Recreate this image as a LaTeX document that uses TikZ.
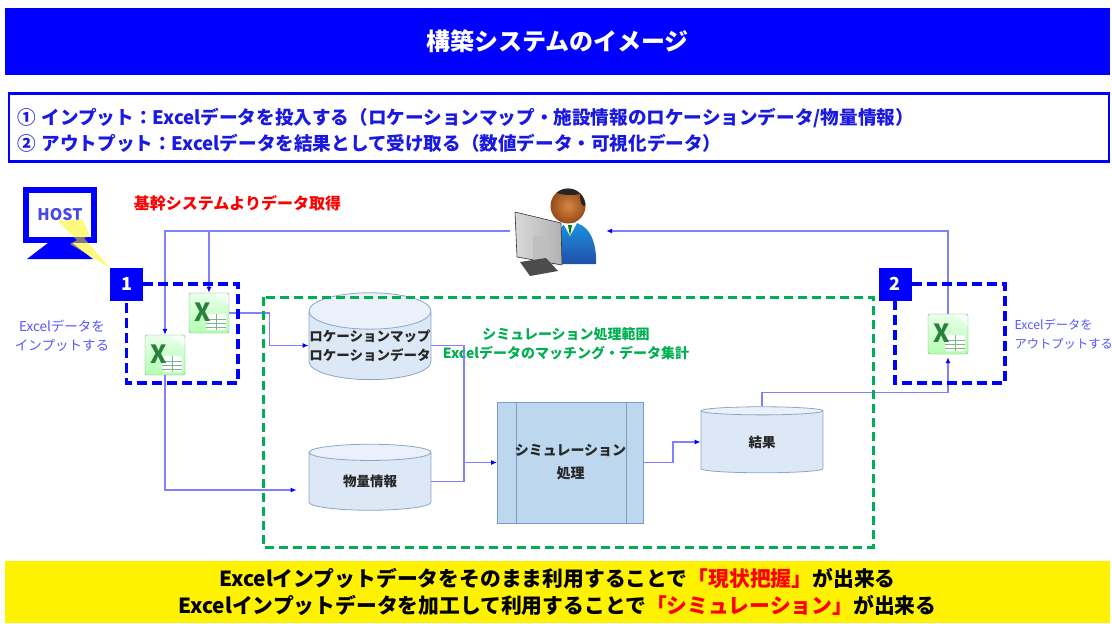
\documentclass[tikz,border=0pt]{standalone}
\usepackage{fontspec}
\setmainfont{Noto Sans CJK JP}
\usepackage{tikz}
\usetikzlibrary{shapes.geometric, arrows.meta, positioning}

\definecolor{linkblue}{RGB}{128,128,255}
\definecolor{frameblue}{RGB}{0,0,255}
\definecolor{infoblue}{RGB}{25,25,225}
\definecolor{labelblue}{RGB}{85,85,255}
\definecolor{rangegreen}{RGB}{0,176,80}
\definecolor{dbfill}{RGB}{220,232,245}
\definecolor{dbtop}{RGB}{234,241,250}
\definecolor{dbedge}{RGB}{140,165,200}
\definecolor{procfill}{RGB}{189,215,238}
\definecolor{procedge}{RGB}{125,155,195}
\definecolor{xlsgreen}{RGB}{40,130,60}
\definecolor{xlsedge}{RGB}{120,170,120}
\definecolor{jacket}{RGB}{40,100,210}
\definecolor{facelight}{RGB}{215,135,65}
\definecolor{facedark}{RGB}{150,75,25}

\begin{document}
\begin{tikzpicture}[x=1pt, y=-1pt,
        flow/.style={draw=linkblue, line width=1.3pt, -{Latex[length=6pt, width=5pt, color=frameblue]}},
        link/.style={draw=linkblue, line width=1.3pt},
        db/.style={cylinder, shape border rotate=90, shape aspect=0.3, draw=dbedge, line width=0.8pt,
            cylinder uses custom fill, cylinder body fill=dbfill, cylinder end fill=dbtop,
            minimum width=122pt, minimum height=66pt, inner sep=0pt, align=center,
            font=\bfseries\fontsize{13.5}{19}\selectfont, text=black!85},
        procbox/.style={rectangle, draw=procedge, fill=procfill, line width=0.8pt,
            minimum width=146pt, minimum height=121pt, align=center, text=black!85,
            font=\bfseries\fontsize{14}{23}\selectfont,
            path picture={
                \draw[procedge, line width=0.8pt] ([xshift=19pt]path picture bounding box.north west) -- ([xshift=19pt]path picture bounding box.south west);
                \draw[procedge, line width=0.8pt] ([xshift=-17pt]path picture bounding box.north east) -- ([xshift=-17pt]path picture bounding box.south east);
            }},
        numbox/.style={rectangle, fill=frameblue, text=white, minimum size=33pt, inner sep=0pt,
            font=\bfseries\fontsize{18}{18}\selectfont},
        xls/.style={rectangle, minimum width=40pt, minimum height=40pt, inner sep=0pt, rounded corners=2pt,
            draw=xlsedge, top color=green!8, bottom color=green!30!white,
            path picture={
                \fill[white] ([xshift=-3pt, yshift=-1pt]path picture bounding box.center) rectangle ([xshift=17pt, yshift=-17pt]path picture bounding box.center);
                \foreach \dy in {-6,-10,-14}
                    \draw[xlsgreen!60, line width=0.7pt] ([xshift=-3pt, yshift=\dy pt]path picture bounding box.center) -- ([xshift=17pt, yshift=\dy pt]path picture bounding box.center);
                \draw[xlsgreen!60, line width=0.7pt] ([xshift=7pt, yshift=-1pt]path picture bounding box.center) -- ([xshift=7pt, yshift=-17pt]path picture bounding box.center);
                \fill[white, opacity=0.7] (path picture bounding box.north east) -- ([xshift=-14pt]path picture bounding box.north east) -- ([yshift=-12pt]path picture bounding box.north east) -- cycle;
                \node[text=xlsgreen, font=\bfseries\fontsize{25}{25}\selectfont] at ([xshift=-6pt, yshift=1pt]path picture bounding box.center) {X};
            }},
        grpblue/.style={draw=frameblue, line width=3.5pt, dash pattern=on 10pt off 5pt},
        grpgreen/.style={draw=rangegreen, line width=3pt, dash pattern=on 9pt off 5pt}
    ]
    \useasboundingbox (0,0) rectangle (1112,624);

    % header and notes
    \node[fill=frameblue, minimum width=1105pt, minimum height=67pt, text=white,
        font=\bfseries\fontsize{24}{24}\selectfont] (title) at (557.5,41.5) {構築システムのイメージ};
    \node[draw=frameblue, line width=2.5pt, minimum width=1100pt, minimum height=68pt] (notes) at (559,127.5) {};
    \node[anchor=west, align=left, text=infoblue, font=\bfseries\fontsize{18.6}{26}\selectfont] (notetext) at (14,130)
        {①\hspace{0.3em}インプット：Excelデータを投入する（ロケーションマップ・施設情報のロケーションデータ/物量情報）\\
         ②\hspace{0.3em}アウトプット：Excelデータを結果として受け取る（数値データ・可視化データ）};

    % host computer
    \node[draw=frameblue, line width=6pt, minimum width=68pt, minimum height=50pt, text=infoblue!80,
        font=\bfseries\fontsize{16}{16}\selectfont] (host) at (60,215) {HOST};
    \fill[frameblue] (48,243) -- (72,243) -- (93,259) -- (27,259) -- cycle;
    \fill[yellow, fill opacity=0.5] (58,221) -- (82,219) -- (90,236) -- (84,238) -- (110,268) -- (70,244) -- (77,240) -- cycle;
    \node[text=red, font=\bfseries\fontsize{16}{16}\selectfont] (fetch) at (237.5,203) {基幹システムよりデータ取得};

    % operator at the terminal
    \node[minimum width=96pt, minimum height=90pt] (user) at (558,231) {};
    \shade[top color=jacket!70!cyan, bottom color=jacket!80!black]
        (552,264) .. controls (551,236) and (560,223) .. (571,222) .. controls (587,223) and (597,238) .. (596,264) -- cycle;
    \fill[white] (563,223) -- (577,223) -- (570,236) -- cycle;
    \fill[green!50!black] (568,225) -- (572,225) -- (570,236) -- cycle;
    \shade[inner color=facelight, outer color=facedark] (568,206) circle (17.5);
    \begin{scope}
        \clip (568,206) circle (17.5);
        \fill[black!85] (570,186) ellipse (21 and 9);
        \fill[black!85] (584,196) ellipse (4 and 10);
    \end{scope}
    \shade[left color=gray!30, right color=gray!60, draw=gray!40!black, line width=0.6pt]
        (515,212) -- (561,223) -- (562,265) -- (517,257) -- cycle;
    \fill[gray!50] (533,236) rectangle (546,260);
    \fill[gray!60!black] (520,262) -- (546,258) -- (558,271) -- (530,276) -- cycle;

    % input side
    \node[numbox] (n1) at (126.5,284) {1};
    \node[xls] (x1) at (209,313) {};
    \node[xls] (x2) at (165,355) {};
    \node[align=center, text=labelblue, font=\fontsize{13.5}{19}\selectfont] (inlabel) at (62,336) {Excelデータを\\インプットする};

    % simulation range
    \node[db] (loc) at (370,345.5) {ロケーションマップ\\ロケーションデータ};
    \node[db] (qty) at (370,481.5) {物量情報};
    \node[procbox] (proc) at (570.5,462.5) {シミュレーション\\処理};
    \node[db] (res) at (762,442) {結果};
    \node[align=center, text=rangegreen, font=\bfseries\fontsize{14}{19}\selectfont] (range) at (566,343.5)
        {シミュレーション処理範囲\\Excelデータのマッチング・データ集計};
    \coordinate (join) at (464,462.5);

    % output side
    \node[numbox] (n2) at (895,284) {2};
    \node[xls] (x3) at (948,334) {};
    \node[anchor=west, align=left, text=labelblue, font=\fontsize{12.3}{19}\selectfont] (outlabel) at (1011,334) {Excelデータを\\アウトプットする};

    % data flow
    \draw[flow] (user.west) -| (x2.north);
    \draw[flow] (user.west -| x1.north) -- (x1.north);
    \draw[flow] (x1.east) -- ++(40,0) |- (loc.west);
    \draw[flow, shorten >=12pt] (x2.south) |- ([yshift=-8.5pt]qty.west);
    \draw[flow] (loc.east) -| (join) -- (proc.west);
    \draw[link] (qty.east) -| (join);
    \draw[flow] (proc.east) -- ++(29,0) |- (res.west);
    \draw[flow, shorten >=3pt] (res.north) -- ++(0,-14) -| (x3.south);
    \draw[flow] (x3.north) |- (user.east);

    % group frames
    \draw[grpblue] (n1.east) -| (238,383) -| (n1.south);
    \draw[grpblue] (n2.east) -| (1005,383) -| (n2.south);
    \draw[grpgreen] (263,297) rectangle (873,547);

    % summary bar
    \node[fill=yellow, minimum width=1105pt, minimum height=62pt, align=center,
        font=\bfseries\fontsize{20.8}{27}\selectfont] (summary) at (557.5,592)
        {Excelインプットデータをそのまま利用することで\textcolor{red}{「現状把握」}が出来る\\
         Excelインプットデータを加工して利用することで\textcolor{red}{「シミュレーション」}が出来る};
\end{tikzpicture}
\end{document}
